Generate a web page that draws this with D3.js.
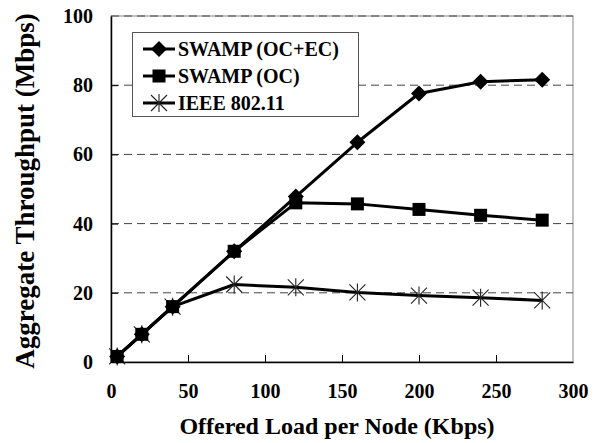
<!DOCTYPE html>
<html>
<head>
<meta charset="utf-8">
<script src="https://cdn.jsdelivr.net/npm/d3@7"></script>
</head>
<body style="margin:0; background:#fff">
<svg id="chart" width="597" height="443" font-family="Liberation Serif, Times New Roman, Times, serif" font-weight="bold"></svg>
<script>
// offered load per node (Kbps)
var loads = [4, 20, 40, 80, 120, 160, 200, 240, 280];

// aggregate throughput (Mbps)
var swampOcEc = [1.6, 8.0, 16.0, 32.0, 47.8, 63.5, 77.6, 81.0, 81.6];
var swampOc   = [1.6, 8.0, 16.0, 32.0, 46.0, 45.7, 44.1, 42.4, 41.0];
var ieee      = [1.6, 8.0, 16.0, 22.4, 21.6, 20.1, 19.2, 18.6, 17.8];

var seriesNames = ["SWAMP (OC+EC)", "SWAMP (OC)", "IEEE 802.11"];
var xTicks = [0, 50, 100, 150, 200, 250, 300];
var yTicks = [0, 20, 40, 60, 80, 100];

var svg = d3.select('#chart');
var plot = { left: 111, right: 573, top: 16, bottom: 362 };

function label(sel, size) {
  return sel.attr('font-family', 'Liberation Serif, Times New Roman, Times, serif')
    .attr('font-weight', 'bold')
    .attr('font-size', size)
    .attr('fill', '#000');
}

var x = d3.scaleLinear().domain([0, 300]).range([plot.left, plot.right]);
var y = d3.scaleLinear().domain([0, 100]).range([plot.bottom, plot.top]);

// plot frame (top/right in grey)
svg.append('rect')
  .attr('x', plot.left).attr('y', plot.top)
  .attr('width', plot.right - plot.left).attr('height', plot.bottom - plot.top)
  .attr('fill', 'none').attr('stroke', '#888').attr('stroke-width', 1);

// dashed gridlines
svg.append('g').selectAll('line')
  .data(yTicks.filter(function (d) { return d > 0; }))
  .enter().append('line')
  .attr('x1', plot.left).attr('x2', plot.right)
  .attr('y1', function (d) { return y(d); })
  .attr('y2', function (d) { return y(d); })
  .attr('stroke', '#444').attr('stroke-width', 1)
  .attr('stroke-dasharray', '8,5');

// axes
var xAxis = svg.append('g')
  .attr('transform', 'translate(0,' + plot.bottom + ')')
  .call(d3.axisBottom(x).tickValues(xTicks).tickSizeInner(-7).tickSizeOuter(0).tickPadding(22));
var yAxis = svg.append('g')
  .attr('transform', 'translate(' + plot.left + ',0)')
  .call(d3.axisLeft(y).tickValues(yTicks).tickSizeInner(-7).tickSizeOuter(0).tickPadding(18));

[xAxis, yAxis].forEach(function (ax) {
  label(ax, 20);
  ax.select('.domain').attr('stroke', '#000').attr('stroke-width', 1.5);
  ax.selectAll('.tick line').attr('stroke', '#000').attr('stroke-width', 1);
  label(ax.selectAll('.tick text'), 20);
});
xAxis.selectAll('.tick').filter(function (d) { return d === 0 || d === 300; }).select('line').remove();
yAxis.selectAll('.tick').filter(function (d) { return d === 0 || d === 100; }).select('line').remove();

// axis titles
label(svg.append('text'), 24)
  .attr('x', (plot.left + plot.right) / 2 - 5).attr('y', 434)
  .attr('text-anchor', 'middle')
  .text('Offered Load per Node (Kbps)');
label(svg.append('text'), 27)
  .attr('transform', 'translate(34,' + ((plot.top + plot.bottom) / 2 + 2) + ') rotate(-90)')
  .attr('text-anchor', 'middle')
  .text('Aggregate Throughput (Mbps)');

// markers
function drawMarker(g, kind) {
  if (kind === 'diamond') {
    g.append('path').attr('d', 'M0,-8L8,0L0,8L-8,0Z').attr('fill', '#000');
  } else if (kind === 'square') {
    g.append('rect').attr('x', -6.5).attr('y', -6.5).attr('width', 13).attr('height', 13).attr('fill', '#000');
  } else {
    g.append('path')
      .attr('d', 'M-8,-8L8,8M-8,8L8,-8M0,-9L0,9')
      .attr('stroke', '#222').attr('stroke-width', 1.1).attr('fill', 'none');
  }
}

var series = [
  { name: seriesNames[2], values: ieee, marker: 'star' },
  { name: seriesNames[1], values: swampOc, marker: 'square' },
  { name: seriesNames[0], values: swampOcEc, marker: 'diamond' }
];

var line = d3.line()
  .x(function (d) { return x(d[0]); })
  .y(function (d) { return y(d[1]); });

series.forEach(function (s) {
  var pts = loads.map(function (l, i) { return [l, s.values[i]]; });
  svg.append('path').datum(pts)
    .attr('d', line)
    .attr('fill', 'none').attr('stroke', '#000').attr('stroke-width', 3)
    .attr('stroke-linejoin', 'round');
  svg.append('g').selectAll('g')
    .data(pts).enter().append('g')
    .attr('transform', function (d) { return 'translate(' + x(d[0]) + ',' + y(d[1]) + ')'; })
    .each(function () { drawMarker(d3.select(this), s.marker); });
});

// legend
var legend = svg.append('g');
legend.append('rect')
  .attr('x', 132.5).attr('y', 32.5).attr('width', 226).attr('height', 84)
  .attr('fill', '#fff').attr('stroke', '#555').attr('stroke-width', 1);
var legendItems = [series[2], series[1], series[0]];
legendItems.forEach(function (s, i) {
  var ly = 49 + i * 27;
  legend.append('line')
    .attr('x1', 143).attr('x2', 175).attr('y1', ly).attr('y2', ly)
    .attr('stroke', '#000').attr('stroke-width', 3);
  drawMarker(legend.append('g').attr('transform', 'translate(159,' + ly + ')'), s.marker);
  label(legend.append('text'), 20)
    .attr('x', 178).attr('y', ly + 7)
    .text(s.name);
});
</script>
</body>
</html>
